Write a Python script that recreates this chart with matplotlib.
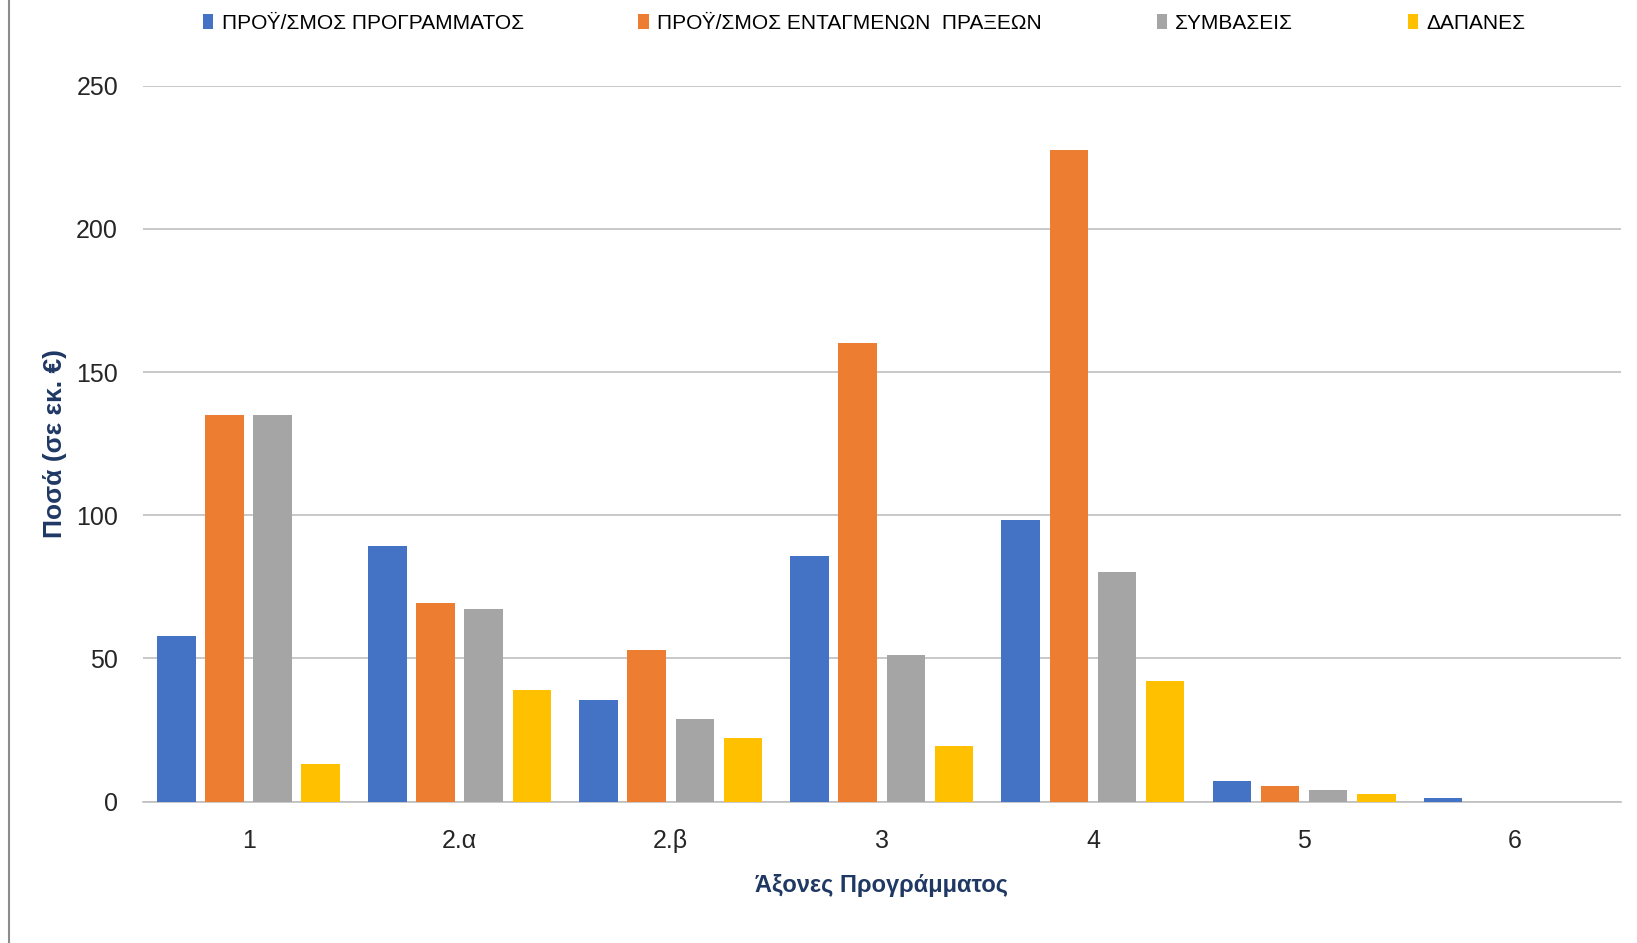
import matplotlib
matplotlib.use("Agg")
import numpy as np
import matplotlib.pyplot as plt
from matplotlib.patches import Patch
from matplotlib.lines import Line2D

plt.rcParams["font.family"] = ["Liberation Sans", "DejaVu Sans"]

categories = ["1", "2.α", "2.β", "3", "4", "5", "6"]
series_names = [
    "ΠΡΟΫ/ΣΜΟΣ ΠΡΟΓΡΑΜΜΑΤΟΣ",
    "ΠΡΟΫ/ΣΜΟΣ ΕΝΤΑΓΜΕΝΩΝ  ΠΡΑΞΕΩΝ",
    "ΣΥΜΒΑΣΕΙΣ",
    "ΔΑΠΑΝΕΣ",
]
programme = [57.7, 89.4, 35.4, 85.8, 98.2, 7.3, 1.1]
integrated = [135.0, 69.3, 52.9, 160.2, 227.7, 5.5, 0.0]
contracts = [135.0, 67.2, 28.8, 51.1, 80.3, 4.0, 0.0]
expenses = [13.1, 39.0, 22.3, 19.3, 42.0, 2.6, 0.0]
yticks = [0, 50, 100, 150, 200, 250]

colors = ["#4472C4", "#ED7D31", "#A5A5A5", "#FFC000"]


def main():
    fig = plt.figure(figsize=(16.37, 9.43), dpi=100)
    ax = fig.add_axes([0.0874, 0.150, 0.9026, 0.759])

    x = np.arange(len(categories))
    step = 0.228
    width = 0.183
    all_series = [programme, integrated, contracts, expenses]
    for i, vals in enumerate(all_series):
        ax.bar(x + (i - 1.5) * step, vals, width=width, color=colors[i], zorder=3)

    ax.set_xlim(-0.5, 6.5)
    ax.set_ylim(0, 250)
    ax.set_yticks(yticks)
    ax.set_xticks(x)
    ax.set_xticklabels(categories)
    ax.tick_params(axis="both", length=0, labelsize=18, colors="#262626")
    ax.tick_params(axis="y", pad=18)
    ax.tick_params(axis="x", pad=20)

    ax.yaxis.grid(True, color="#BFBFBF", linewidth=1.2, zorder=0)
    for s in ["top", "right", "left"]:
        ax.spines[s].set_visible(False)
    ax.spines["bottom"].set_color("#BFBFBF")
    ax.spines["bottom"].set_linewidth(1.2)

    ax.set_xlabel("Άξονες Προγράμματος", fontsize=17, fontweight="bold", color="#1F3864")
    ax.xaxis.label.set_va("center")
    ax.xaxis.set_label_coords(0.5, -0.1175)
    ax.set_ylabel("Ποσά (σε εκ. €)", fontsize=19, fontweight="bold", color="#1F3864")
    ax.yaxis.label.set_va("center")
    ax.yaxis.set_label_coords(-0.0595, 0.5)

    handles = [Patch(facecolor=c) for c in colors]
    fig.legend(
        handles,
        series_names,
        loc="center",
        bbox_to_anchor=(0.528, 0.975),
        ncol=4,
        frameon=False,
        fontsize=15,
        handlelength=0.5,
        handleheight=0.75,
        handletextpad=0.4,
        columnspacing=5.5,
    )

    fig.add_artist(Line2D([0.0055, 0.0055], [0, 1], color="#8C8C8C", linewidth=1.5))

    fig.savefig("out.png", dpi=100)


if __name__ == "__main__":
    main()
